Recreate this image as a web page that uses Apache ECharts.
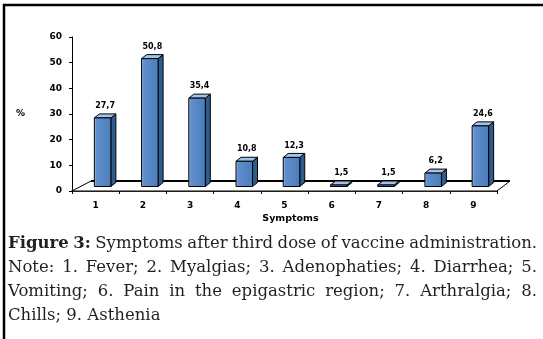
<!DOCTYPE html>
<html>
<head>
<meta charset="utf-8">
<script src="https://cdn.jsdelivr.net/npm/echarts@6/dist/echarts.min.js"></script>
<style>
  html, body { margin: 0; padding: 0; background: #fff; }
  #chart { width: 543px; height: 339px; }
</style>
</head>
<body>
<div id="chart"></div>
<script>
// symptom numbers on the x axis
var categories = ['1', '2', '3', '4', '5', '6', '7', '8', '9'];
// percentage of patients per symptom
var percents = [27.7, 50.8, 35.4, 10.8, 12.3, 1.5, 1.5, 6.2, 24.6];
// y axis ticks
var yTicks = [0, 10, 20, 30, 40, 50, 60];

// caption below the chart, one entry per line (last line is not justified)
var captionBold = 'Figure 3:';
var captionLines = [
    'Figure 3: Symptoms after third dose of vaccine administration.',
    'Note: 1. Fever; 2. Myalgias; 3. Adenophaties; 4. Diarrhea; 5.',
    'Vomiting; 6. Pain in the epigastric region; 7. Arthralgia; 8.',
    'Chills; 9. Asthenia'
];

var GRID = { left: 72, right: 46, top: 37, bottom: 148 };
var W = 543, H = 339;
var axisFont = 'DejaVu Sans';
var capFont = 'DejaVu Serif';
var capSize = 16.5;

var chart = echarts.init(document.getElementById('chart'), null, { renderer: 'canvas' });

function renderBar(params, api) {
    var top = api.coord([api.value(0), api.value(1)]);
    var base = api.coord([api.value(0), 0]);
    var cx = top[0] + 7;
    var w = 16.5;
    var l = cx - w / 2, r = cx + w / 2;
    var b = base[1] - 4.5;
    var t = Math.min(top[1] - 2, b - 1.5);
    var dx = 5, dy = -4;
    var stroke = { stroke: '#000', lineWidth: 1 };
    return {
        type: 'group',
        children: [
            {
                type: 'polygon',
                shape: { points: [[r, b], [r + dx, b + dy], [r + dx, t + dy], [r, t]] },
                style: Object.assign({ fill: '#2f5b8e' }, stroke)
            },
            {
                type: 'polygon',
                shape: { points: [[l, t], [r, t], [r + dx, t + dy], [l + dx, t + dy]] },
                style: Object.assign({ fill: '#a3c2e8' }, stroke)
            },
            {
                type: 'rect',
                shape: { x: l, y: t, width: w, height: b - t },
                style: Object.assign({
                    fill: new echarts.graphic.LinearGradient(0, 0, 1, 0, [
                        { offset: 0, color: '#b0cdf0' },
                        { offset: 0.15, color: '#5f8fcc' },
                        { offset: 1, color: '#4a7dbb' }
                    ])
                }, stroke)
            },
            {
                type: 'text',
                style: {
                    text: String(api.value(1)).replace('.', ','),
                    x: cx + 2.5,
                    y: t - 12,
                    align: 'center',
                    verticalAlign: 'middle',
                    font: 'bold 8px ' + axisFont,
                    fill: '#000'
                }
            }
        ]
    };
}

// lay out the justified caption word by word
function captionGraphics() {
    var ctx = document.createElement('canvas').getContext('2d');
    var xL = 8, xR = 537;
    var base0 = 252, lineGap = 24.2;
    var out = [];
    captionLines.forEach(function(line, li) {
        var words = line.split(' ');
        var items = [];
        var boldLeft = li === 0 ? captionBold.split(' ').length : 0;
        var total = 0;
        words.forEach(function(wd, wi) {
            var bold = wi < boldLeft;
            var font = (bold ? 'bold ' : '') + capSize + 'px "' + capFont + '"';
            ctx.font = font;
            var wdt = ctx.measureText(wd).width;
            items.push({ text: wd, font: font, w: wdt });
            total += wdt;
        });
        ctx.font = capSize + 'px "' + capFont + '"';
        var gap = ctx.measureText(' ').width;
        if (li < captionLines.length - 1 && words.length > 1) {
            gap = (xR - xL - total) / (words.length - 1);
        }
        var x = xL;
        items.forEach(function(it) {
            out.push({
                type: 'text',
                x: x,
                y: base0 + li * lineGap,
                style: {
                    text: it.text,
                    font: it.font,
                    fill: '#231f20',
                    verticalAlign: 'bottom'
                }
            });
            x += it.w + gap;
        });
    });
    return out;
}

var x0 = GRID.left, x1 = W - GRID.right, y0 = H - GRID.bottom;
var floorBack = y0 - 10;

var option = {
    animation: false,
    backgroundColor: '#fff',
    grid: { left: GRID.left, right: GRID.right, top: GRID.top, bottom: GRID.bottom },
    xAxis: {
        type: 'category',
        data: categories,
        boundaryGap: true,
        axisLine: { lineStyle: { color: '#000', width: 1.5 } },
        axisTick: { show: true, length: 3, lineStyle: { color: '#000' } },
        axisLabel: { color: '#000', fontFamily: axisFont, fontWeight: 'bold', fontSize: 9, margin: 10 }
    },
    yAxis: {
        type: 'value',
        min: yTicks[0],
        max: yTicks[yTicks.length - 1],
        interval: yTicks[1] - yTicks[0],
        name: '%',
        nameLocation: 'middle',
        nameRotate: 0,
        nameGap: 47,
        nameTextStyle: { color: '#000', fontFamily: axisFont, fontWeight: 'bold', fontSize: 9 },
        axisLine: { show: true, lineStyle: { color: '#000', width: 1 } },
        axisTick: { show: true, length: 3, lineStyle: { color: '#000' } },
        splitLine: { show: false },
        axisLabel: { color: '#000', fontFamily: axisFont, fontWeight: 'bold', fontSize: 9, margin: 10 }
    },
    series: [{
        type: 'custom',
        renderItem: renderBar,
        data: percents.map(function(v, i) { return [i, v]; }),
        z: 5
    }],
    graphic: [
        // floor of the 3D plot
        {
            type: 'polygon',
            z: 1,
            shape: { points: [[x0, y0], [x1, y0], [x1 + 13, floorBack], [x0 + 19, floorBack]] },
            style: { fill: '#fff', stroke: '#000', lineWidth: 1 }
        },
        {
            type: 'line',
            z: 1,
            shape: { x1: x0 + 19, y1: floorBack, x2: x1 + 13, y2: floorBack },
            style: { stroke: '#000', lineWidth: 2 }
        },
        {
            type: 'text',
            x: (x0 + x1) / 2 + 6,
            y: y0 + 28,
            style: {
                text: 'Symptoms',
                font: 'bold 9.5px ' + axisFont,
                fill: '#000',
                align: 'center',
                verticalAlign: 'middle'
            }
        },
        // frame lines of the figure
        {
            type: 'line',
            shape: { x1: 3, y1: 5, x2: W, y2: 5 },
            style: { stroke: '#000', lineWidth: 2.5 }
        },
        {
            type: 'line',
            shape: { x1: 4, y1: 4, x2: 4, y2: H },
            style: { stroke: '#000', lineWidth: 2.5 }
        }
    ].concat(captionGraphics())
};

chart.setOption(option);
</script>
</body>
</html>
